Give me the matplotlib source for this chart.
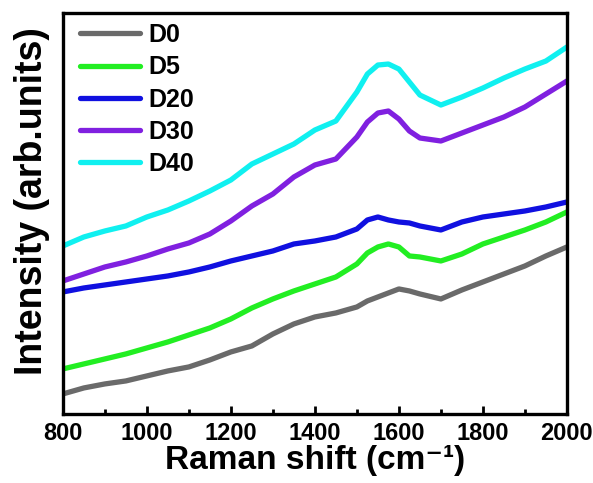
import matplotlib
matplotlib.use("Agg")
import matplotlib.pyplot as plt
from matplotlib.ticker import MultipleLocator

plt.rcParams['font.family'] = ['Liberation Sans', 'DejaVu Sans']
plt.rcParams['font.weight'] = 'bold'

shift = [800, 850, 900, 950, 1000, 1050, 1100, 1150, 1200, 1250, 1300, 1350, 1400,
         1450, 1500, 1525, 1550, 1575, 1600, 1625, 1650, 1700, 1750, 1800, 1850,
         1900, 1950, 2000]

d0 = [20, 26, 30, 33, 38, 43, 47, 54, 62, 68, 80, 90, 97,
      101, 107, 113, 117, 121, 125, 123, 120, 115, 124, 132, 140, 148, 158, 167]
d5 = [45, 50, 55, 60, 66, 72, 79, 86, 95, 106, 115, 123, 130,
      137, 150, 161, 167, 170, 167, 158, 157, 153, 160, 170, 177, 184, 192, 202]
d20 = [122, 126, 129, 132, 135, 138, 142, 147, 153, 158, 163, 170, 173,
       177, 185, 194, 197, 194, 192, 191, 188, 184, 192, 197, 200, 203, 207, 212]
d30 = [133, 140, 147, 152, 158, 165, 171, 180, 193, 208, 220, 237, 249,
       255, 277, 292, 301, 303, 295, 283, 276, 273, 281, 289, 297, 307, 320, 333]
d40 = [168, 177, 183, 188, 197, 204, 213, 223, 234, 250, 260, 270, 284,
       293, 322, 340, 349, 350, 345, 332, 319, 309, 317, 326, 336, 345, 353, 367]

names = ['D0', 'D5', 'D20', 'D30', 'D40']
colors = ['#6a6a6a', '#22ee22', '#1010e0', '#8020e0', '#10f0f0']

fig = plt.figure(figsize=(5.93, 4.83), dpi=100)
ax = fig.add_axes([0.106, 0.143, 0.85, 0.830])

for s, name, c in zip([d0, d5, d20, d30, d40], names, colors):
    ax.plot(shift, s, color=c, lw=3.8, label=name, solid_capstyle='round',
            solid_joinstyle='round')

ax.set_xlim(800, 2000)
ax.set_ylim(0, 401)
ax.set_yticks([])
ax.xaxis.set_major_locator(MultipleLocator(200))
ax.xaxis.set_minor_locator(MultipleLocator(100))
ax.tick_params(axis='x', which='major', direction='in', length=6, width=2,
               labelsize=17, pad=6)
ax.tick_params(axis='x', which='minor', direction='in', length=3.5, width=2)
for sp in ax.spines.values():
    sp.set_linewidth(2.4)

ax.set_xlabel('Raman shift (cm\u207b\u00b9)', fontsize=24, fontweight='bold', labelpad=0)
ax.set_ylabel('Intensity (arb.units)', fontsize=27, fontweight='bold')
ax.yaxis.set_label_coords(-0.026, 0.53)

ax.legend(loc='upper left', frameon=False, fontsize=18, handlelength=2.4,
          handletextpad=0.3, labelspacing=0.33, borderaxespad=0.0,
          bbox_to_anchor=(0.015, 1.0))

fig.savefig('out.png', dpi=100)
